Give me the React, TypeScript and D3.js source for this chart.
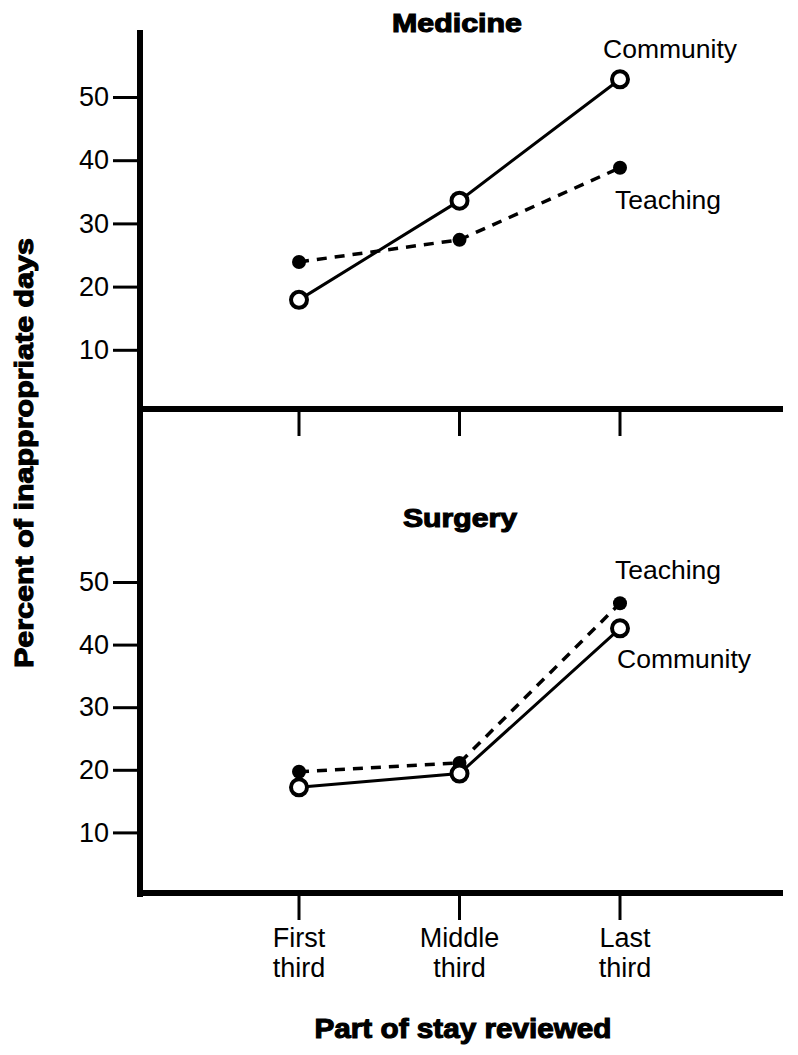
import React, { useEffect, useRef } from "react";
import * as d3 from "d3";

const stages = ["First third", "Middle third", "Last third"];
const yTicks = [10, 20, 30, 40, 50];

// Medicine panel
const medicineCommunity = [17.9, 33.6, 52.8];
const medicineTeaching = [23.9, 27.4, 38.8];

// Surgery panel
const surgeryCommunity = [17.2, 19.4, 42.6];
const surgeryTeaching = [19.7, 21.1, 46.6];

const FONT = "'Liberation Sans', Arial, Helvetica, sans-serif";

const App = () => {
  const chartRef = useRef(null);

  useEffect(() => {
    drawChart();
  }, []);

  const drawChart = () => {
    const width = 798;
    const height = 1055;
    const axisX = 140;

    const svg = d3
      .select(chartRef.current)
      .attr("width", width)
      .attr("height", height);
    svg.selectAll("*").remove();

    const x = d3.scalePoint().domain(stages).range([299, 620]);

    const boldText = (sel, size, len) =>
      sel
        .attr("font-family", FONT)
        .attr("font-weight", "bold")
        .attr("font-size", size)
        .attr("stroke", "#000")
        .attr("stroke-width", 1.1)
        .attr("textLength", len)
        .attr("lengthAdjust", "spacingAndGlyphs");

    const panels = [
      {
        title: "Medicine",
        titleX: 457,
        titleY: 32,
        titleLen: 130,
        y: d3.scaleLinear().domain([0, 50]).range([413, 97]),
        base: 409,
        community: medicineCommunity,
        teaching: medicineTeaching,
        labels: [
          { text: "Community", x: 603, y: 58 },
          { text: "Teaching", x: 615, y: 209 },
        ],
      },
      {
        title: "Surgery",
        titleX: 460,
        titleY: 527,
        titleLen: 114,
        y: d3.scaleLinear().domain([0, 50]).range([895, 582]),
        base: 893,
        community: surgeryCommunity,
        teaching: surgeryTeaching,
        labels: [
          { text: "Teaching", x: 615, y: 579 },
          { text: "Community", x: 617, y: 668 },
        ],
      },
    ];

    // vertical axis
    svg
      .append("line")
      .attr("x1", axisX)
      .attr("x2", axisX)
      .attr("y1", 30)
      .attr("y2", 897)
      .attr("stroke", "#000")
      .attr("stroke-width", 6);

    panels.forEach((p) => {
      // baseline
      svg
        .append("line")
        .attr("x1", axisX)
        .attr("x2", 783)
        .attr("y1", p.base)
        .attr("y2", p.base)
        .attr("stroke", "#000")
        .attr("stroke-width", 6);

      // category ticks below baseline
      svg
        .selectAll(null)
        .data(stages)
        .join("line")
        .attr("x1", (d) => x(d))
        .attr("x2", (d) => x(d))
        .attr("y1", p.base)
        .attr("y2", p.base + 27)
        .attr("stroke", "#000")
        .attr("stroke-width", 3);

      // y ticks
      const yAxis = svg
        .append("g")
        .attr("transform", `translate(${axisX},0)`)
        .call(d3.axisLeft(p.y).tickValues(yTicks).tickSize(27).tickPadding(4));
      yAxis.select(".domain").remove();
      yAxis.selectAll(".tick line").attr("stroke", "#000").attr("stroke-width", 3);
      yAxis
        .selectAll(".tick text")
        .attr("fill", "#000")
        .attr("font-family", FONT)
        .attr("font-size", 27);

      // panel title
      svg
        .append("text")
        .attr("x", p.titleX)
        .attr("y", p.titleY)
        .attr("text-anchor", "middle")
        .call(boldText, 25, p.titleLen)
        .text(p.title);

      const line = d3
        .line()
        .x((d, i) => x(stages[i]))
        .y((d) => p.y(d));

      // teaching: dashed, filled dots
      svg
        .append("path")
        .datum(p.teaching)
        .attr("fill", "none")
        .attr("stroke", "#000")
        .attr("stroke-width", 3.5)
        .attr("stroke-dasharray", "10,8")
        .attr("d", line);

      // community: solid, open circles
      svg
        .append("path")
        .datum(p.community)
        .attr("fill", "none")
        .attr("stroke", "#000")
        .attr("stroke-width", 3)
        .attr("d", line);

      svg
        .selectAll(null)
        .data(p.teaching)
        .join("circle")
        .attr("cx", (d, i) => x(stages[i]))
        .attr("cy", (d) => p.y(d))
        .attr("r", 7)
        .attr("fill", "#000");

      svg
        .selectAll(null)
        .data(p.community)
        .join("circle")
        .attr("cx", (d, i) => x(stages[i]))
        .attr("cy", (d) => p.y(d))
        .attr("r", 8)
        .attr("fill", "#fff")
        .attr("stroke", "#000")
        .attr("stroke-width", 4);

      // series labels
      svg
        .selectAll(null)
        .data(p.labels)
        .join("text")
        .attr("x", (d) => d.x)
        .attr("y", (d) => d.y)
        .attr("font-family", FONT)
        .attr("font-size", 26.5)
        .text((d) => d.text);
    });

    // category labels (two lines)
    const cat = svg
      .selectAll(null)
      .data(stages)
      .join("text")
      .attr("y", 947)
      .attr("text-anchor", "middle")
      .attr("font-family", FONT)
      .attr("font-size", 27);
    cat
      .append("tspan")
      .attr("x", (d) => x(d) + (d === "Last third" ? 5 : 0))
      .text((d) => d.split(" ")[0]);
    cat
      .append("tspan")
      .attr("x", (d) => x(d) + (d === "Last third" ? 5 : 0))
      .attr("dy", 30)
      .text((d) => d.split(" ")[1]);

    // axis titles
    svg
      .append("text")
      .attr("x", 463)
      .attr("y", 1038)
      .attr("text-anchor", "middle")
      .call(boldText, 27, 297)
      .text("Part of stay reviewed");

    svg
      .append("text")
      .attr("transform", `translate(33,453) rotate(-90)`)
      .attr("text-anchor", "middle")
      .call(boldText, 26, 430)
      .text("Percent of inappropriate days");
  };

  return (
    <div style={{ position: "absolute", left: 0, top: 0, background: "#fff" }}>
      <svg ref={chartRef} style={{ display: "block" }}></svg>
    </div>
  );
};

export default App;
